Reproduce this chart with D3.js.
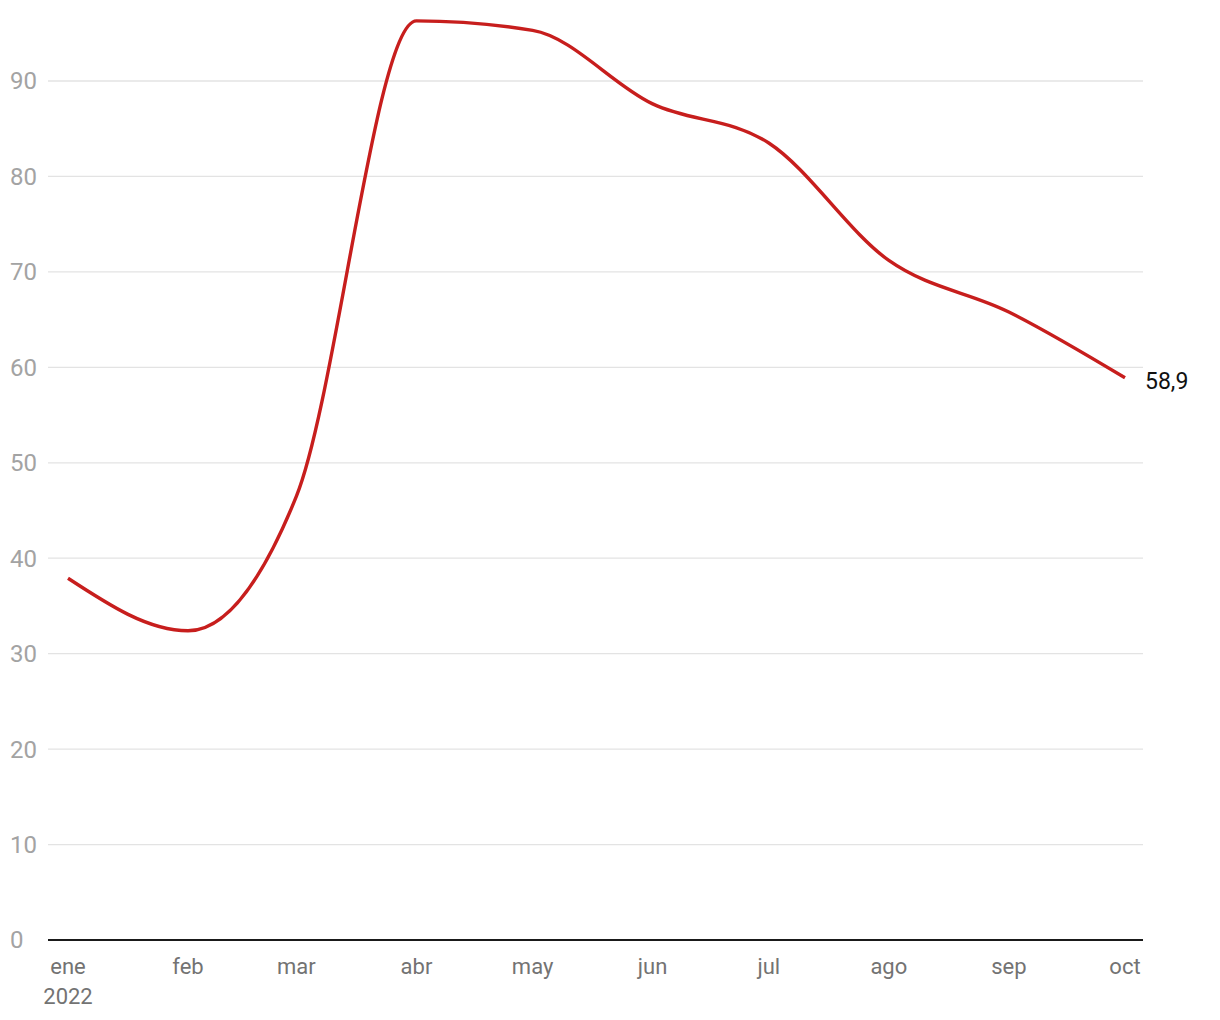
<!DOCTYPE html>
<html><head><meta charset="utf-8">
<script src="https://cdn.jsdelivr.net/npm/d3@7"></script>
<style>
body{margin:0;background:#fff;font-family:Roboto,"Noto Sans",sans-serif;}
</style></head>
<body><svg id="c" width="1220" height="1020"></svg>
<script>
const months = ["2022-01-01","2022-02-01","2022-03-01","2022-04-01","2022-05-01","2022-06-01","2022-07-01","2022-08-01","2022-09-01","2022-10-01"];
const monthLabels = ["ene","feb","mar","abr","may","jun","jul","ago","sep","oct"];
const values = [37.9, 32.4, 46.5, 96.3, 95.3, 87.6, 83.5, 71.2, 65.8, 58.9];
const yTicks = [0,10,20,30,40,50,60,70,80,90];

const parse = d3.timeParse("%Y-%m-%d");
const dates = months.map(parse);
const data = dates.map((d,i)=>({date:d, v:values[i]}));

const svg = d3.select("#c");
const x = d3.scaleTime().domain([dates[0], dates[dates.length-1]]).range([68,1125]);
const y = d3.scaleLinear().domain([0,90]).range([940,81]);
const gridL = 48, gridR = 1143;

// gridlines
svg.append("g").selectAll("line").data(yTicks.filter(t=>t>0)).join("line")
  .attr("x1",gridL).attr("x2",gridR)
  .attr("y1",d=>y(d)).attr("y2",d=>y(d))
  .attr("stroke","#e3e3e3").attr("stroke-width",1.3);

// y labels
svg.append("g").selectAll("text").data(yTicks).join("text")
  .attr("x",10).attr("y",d=>y(d)).attr("dy","0.35em")
  .attr("fill","#a3a3a3").attr("font-size",24).attr("font-family","Roboto")
  .text(d=>d);

// baseline
svg.append("line").attr("x1",gridL).attr("x2",gridR).attr("y1",y(0)).attr("y2",y(0))
  .attr("stroke","#1a1a1a").attr("stroke-width",2);

// x labels
svg.append("g").selectAll("text").data(data).join("text")
  .attr("x",d=>x(d.date)).attr("y",974)
  .attr("text-anchor","middle").attr("fill","#737373").attr("font-size",22).attr("font-family","Roboto")
  .text((d,i)=>monthLabels[i]);
svg.append("text").attr("x",x(dates[0])).attr("y",1004).attr("text-anchor","middle")
  .attr("fill","#737373").attr("font-size",22).attr("font-family","Roboto").text("2022");

// line
const line = d3.line().x(d=>x(d.date)).y(d=>y(d.v)).curve(d3.curveMonotoneX);
svg.append("path").datum(data).attr("d",line)
  .attr("fill","none").attr("stroke","#c71e1d").attr("stroke-width",3.4)
  .attr("stroke-linejoin","round");

// end label
const last = data[data.length-1];
svg.append("text").attr("x",x(last.date)+20).attr("y",y(last.v)+3).attr("dy","0.35em")
  .attr("fill","#111").attr("font-size",23).attr("font-family","Roboto")
  .text(d3.format(".1f")(last.v).replace(".",","));
</script></body></html>
